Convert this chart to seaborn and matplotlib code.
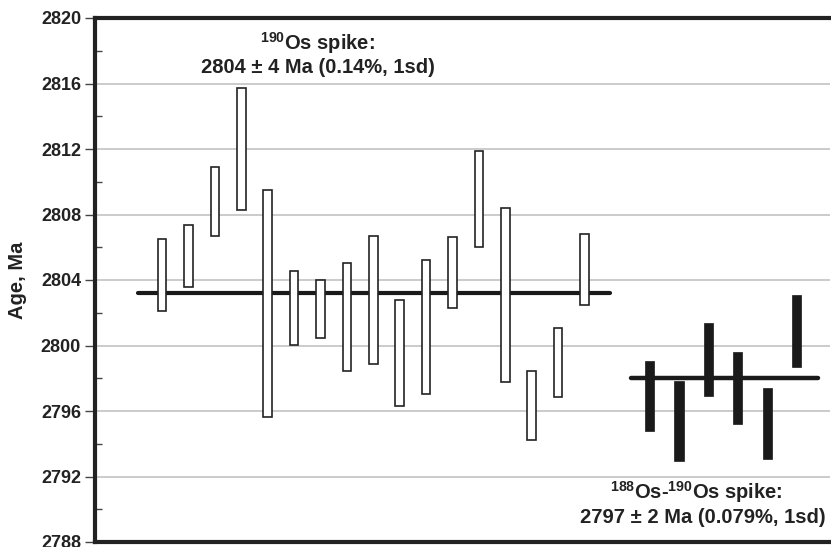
import matplotlib
matplotlib.use("Agg")
import matplotlib.pyplot as plt
import seaborn as sns
import numpy as np

# 190Os spike analyses (open bars): position, low, high
single_x = [1, 2, 3, 4, 5, 6, 7, 8, 9, 10, 11, 12, 13, 14, 15, 16, 17]
single_low = [2802.13, 2803.59, 2806.69, 2808.27, 2795.65, 2800.03, 2800.44, 2798.44, 2798.87,
              2796.32, 2797.02, 2802.29, 2806.02, 2797.79, 2794.21, 2796.84, 2802.47]
single_high = [2806.50, 2807.36, 2810.88, 2815.74, 2809.51, 2804.57, 2803.98, 2805.04, 2806.67,
               2802.78, 2805.20, 2806.63, 2811.86, 2808.42, 2798.46, 2801.05, 2806.79]
single_mean = 2803.22
single_mean_span = [0.09, 17.97]

# 188Os-190Os double spike analyses (filled bars)
double_x = [19.45, 20.58, 21.69, 22.79, 23.93, 25.03]
double_low = [2794.78, 2792.96, 2796.92, 2795.22, 2793.05, 2798.67]
double_high = [2799.05, 2797.85, 2801.39, 2799.62, 2797.39, 2803.08]
double_mean = 2798.0
double_mean_span = [18.77, 25.85]

yticks = [2788, 2792, 2796, 2800, 2804, 2808, 2812, 2816, 2820]

sns.set_style("white")
plt.rcParams['font.family'] = ['Liberation Sans', 'DejaVu Sans']
plt.rcParams['mathtext.fontset'] = 'custom'
plt.rcParams['mathtext.rm'] = 'Liberation Sans:bold'
plt.rcParams['mathtext.bf'] = 'Liberation Sans:bold'

fig = plt.figure(figsize=(8.31, 5.47), dpi=100)
ax = fig.add_axes([95 / 831, 1 - 542 / 547, (830 - 95) / 831, (542 - 18) / 547])

ax.set_ylim(2788, 2820)
ax.set_xlim(-1.54, 26.3)

# gridlines
for t in yticks[1:-1]:
    ax.axhline(t, color="#bdbdbd", lw=1.1, zorder=0)

# floating bars
s_low = np.array(single_low)
s_high = np.array(single_high)
ax.bar(single_x, s_high - s_low, bottom=s_low, width=0.33, facecolor="white",
       edgecolor="#222222", linewidth=1.2, zorder=3)
d_low = np.array(double_low)
d_high = np.array(double_high)
ax.bar(double_x, d_high - d_low, bottom=d_low, width=0.35, facecolor="#1a1a1a",
       edgecolor="#1a1a1a", linewidth=0.5, zorder=3)

# mean lines
sns.lineplot(x=single_mean_span, y=[single_mean, single_mean], ax=ax, color="#1a1a1a",
             lw=3.0, zorder=2)
sns.lineplot(x=double_mean_span, y=[double_mean, double_mean], ax=ax, color="#1a1a1a",
             lw=3.2, zorder=4)

# axes styling
for side in ["left", "top", "bottom"]:
    ax.spines[side].set_visible(True)
    ax.spines[side].set_linewidth(3.0)
    ax.spines[side].set_color("#222222")
ax.spines["right"].set_visible(False)

ax.set_yticks(yticks)
ax.set_yticklabels([str(t) for t in yticks], fontsize=13, fontweight="bold", color="#222222")
ax.set_yticks(np.arange(2790, 2820, 4), minor=True)
ax.tick_params(axis="y", which="major", direction="out", length=7, width=1, color="#444444",
               left=True, pad=3)
ax.tick_params(axis="y", which="minor", direction="in", length=5, width=1, color="#444444",
               left=True)
ax.set_xticks([])
ax.set_ylabel("Age, Ma", fontsize=14.5, fontweight="bold", color="#222222", labelpad=10)

txt = dict(ha="center", va="center", fontsize=14.5, fontweight="bold", color="#222222")
ax.text(6.89, 2818.5, r"$^{190}$Os spike:", **txt)
ax.text(6.89, 2816.95, "2804 \u00b1 4 Ma (0.14%, 1sd)", **txt)
ax.text(21.23, 2791.05, r"$^{188}$Os-$^{190}$Os spike:", **txt)
ax.text(21.47, 2789.47, "2797 \u00b1 2 Ma (0.079%, 1sd)", **txt)

fig.savefig("out.png", dpi=100)
